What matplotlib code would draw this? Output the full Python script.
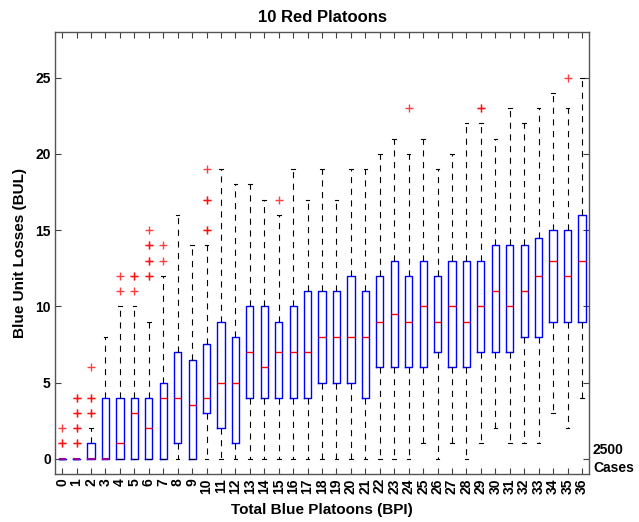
import matplotlib
matplotlib.use("Agg")
import matplotlib.pyplot as plt

plt.rcParams['font.family'] = ['Liberation Sans', 'DejaVu Sans']
plt.rcParams['font.weight'] = 'bold'

# blue platoon counts on the x axis
platoons = list(range(37))

# box statistics per platoon count
q1 = [0, 0, 0, 0, 0, 0, 0, 0, 1, 0, 3, 2, 1, 4, 4, 4, 4, 4, 5, 5,
      5, 4, 6, 6, 6, 6, 7, 6, 6, 7, 7, 7, 8, 8, 9, 9, 9]
med = [0, 0, 0, 0, 1, 3, 2, 4, 4, 3.5, 4, 5, 5, 7, 6, 7, 7, 7, 8, 8,
       8, 8, 9, 9.5, 9, 10, 9, 10, 9, 10, 11, 10, 11, 12, 13, 12, 13]
q3 = [0, 0, 1, 4, 4, 4, 4, 5, 7, 6.5, 7.5, 9, 8, 10, 10, 9, 10, 11, 11, 11,
      12, 11, 12, 13, 12, 13, 12, 13, 13, 13, 14, 14, 14, 14.5, 15, 15, 16]
whisk_lo = [0, 0, 0, 0, 0, 0, 0, 0, 0, 0, 0, 0, 0, 0, 0, 0, 0, 0, 0, 0,
            0, 0, 0, 0, 0, 1, 0, 1, 0, 1, 2, 1, 1, 1, 3, 2, 4]
whisk_hi = [0, 0, 2, 8, 10, 10, 9, 12, 16, 14, 14, 19, 18, 18, 17, 16, 19, 17, 19, 17,
            19, 19, 20, 21, 20, 21, 19, 20, 22, 22, 21, 23, 22, 23, 24, 23, 25]
# outliers (repeated values are overlapping cases)
outliers = {
    0: [1, 1, 2],
    1: [1, 1, 2, 2, 3, 3, 4, 4],
    2: [3, 3, 4, 4, 6],
    4: [11, 12],
    5: [11, 12, 12],
    6: [12, 12, 13, 13, 14, 14, 15],
    7: [13, 14],
    10: [15, 15, 17, 17, 19],
    15: [17],
    24: [23],
    29: [23, 23],
    35: [25],
}

stats = []
for i, p in enumerate(platoons):
    stats.append(dict(q1=q1[i], med=med[i], q3=q3[i],
                      whislo=whisk_lo[i], whishi=whisk_hi[i],
                      fliers=outliers.get(p, []), label=str(p)))

fig = plt.figure(figsize=(6.39, 5.22), dpi=100)
ax = fig.add_axes([0.086, 0.092, 0.836, 0.847])

res = ax.bxp(stats, positions=platoons, widths=0.5, capwidths=0.25,
             boxprops=dict(color='#0000ff', linewidth=1.0),
             medianprops=dict(color='#ff0000', linewidth=1.0),
             whiskerprops=dict(color='black', linewidth=0.8,
                               linestyle=(0, (5.5, 5))),
             capprops=dict(color='black', linewidth=0.8),
             flierprops=dict(marker='+', markeredgecolor='#ff0000',
                             markersize=6, markeredgewidth=1.0,
                             linestyle='none', alpha=0.75))

# medians sitting on a box edge show up purple
for i, line in enumerate(res['medians']):
    if med[i] == q1[i] or med[i] == q3[i]:
        line.set_color('#990099')
        line.set_linewidth(1.5)
    line.set_zorder(3)

ax.set_xlim(-0.5, 36.5)
ax.set_ylim(-1, 28)
ax.set_xticks(platoons)
ax.set_xticklabels([str(p) for p in platoons], rotation=90,
                   fontsize=10, fontweight='bold')
ax.set_yticks([0, 5, 10, 15, 20, 25])
ax.set_yticklabels(['0', '5', '10', '15', '20', '25'],
                   fontsize=10, fontweight='bold')
ax.tick_params(direction='in', length=4, width=0.8, color='#404040',
               top=True, right=True, pad=3)
for s in ax.spines.values():
    s.set_color('#555555')
    s.set_linewidth(1.0)

ax.set_title('10 Red Platoons', fontsize=12, fontweight='bold', pad=7)
ax.set_xlabel('Total Blue Platoons (BPI)', fontsize=11, fontweight='bold',
              labelpad=7)
ax.set_ylabel('Blue Unit Losses (BUL)', fontsize=11, fontweight='bold',
              labelpad=6)

fig.text(0.928, 0.137, '2500', fontsize=10, fontweight='bold',
         ha='left', va='center')
fig.text(0.928, 0.103, 'Cases', fontsize=10, fontweight='bold',
         ha='left', va='center')

fig.savefig('out.png', dpi=100)
